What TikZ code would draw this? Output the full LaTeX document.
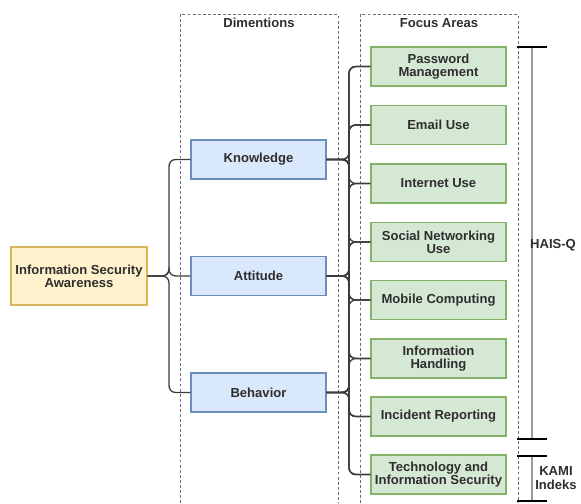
\documentclass[tikz,border=0pt]{standalone}
\usepackage{fontspec}
\setmainfont{Liberation Sans}
\definecolor{txt}{HTML}{2E2E2E}
\definecolor{rootfill}{HTML}{FFF2CC}
\definecolor{rootline}{HTML}{D6B656}
\definecolor{dimfill}{HTML}{DAE8FC}
\definecolor{dimline}{HTML}{6C8EBF}
\definecolor{focfill}{HTML}{D5E8D4}
\definecolor{focline}{HTML}{82B366}
\definecolor{connline}{HTML}{3C3C3C}
\tikzset{
  lbl/.style={font=\fontsize{9.8}{9.9}\selectfont\bfseries, text=txt, align=center},
  box/.style={lbl, draw, line width=1pt, inner sep=0pt, minimum width=101.25pt, minimum height=29.25pt},
  rootbox/.style={box, fill=rootfill, draw=rootline, minimum width=102pt, minimum height=43.5pt},
  dimbox/.style={box, fill=dimfill, draw=dimline},
  focbox/.style={box, fill=focfill, draw=focline},
  container/.style={draw=gray!85!black, dashed, dash pattern=on 2.2pt off 1.6pt, line width=0.45pt},
  conn/.style={draw=connline, line width=1pt, rounded corners=5pt},
  barline/.style={draw=gray!80, line width=1.5pt},
  bartick/.style={draw=black, line width=0.8pt},
}
\begin{document}
\begin{tikzpicture}[x=0.75pt, y=-0.75pt]
\useasboundingbox (0,0) rectangle (581,503);

% dashed column frames
\draw[container] (180,503) -- (180,14) -- (338,14) -- (338,503);
\draw[container] (360,503) -- (360,14) -- (518,14) -- (518,503);
\node[lbl] (dimtitle) at (259,23) {Dimentions};
\node[lbl] (foctitle) at (439,23) {Focus Areas};

% root
\node[rootbox] (isa) at (79,276) {Information Security\\Awareness};

% dimensions
\node[dimbox] (k) at (258.5,159.5) {Knowledge};
\node[dimbox] (a) at (258.5,276) {Attitude};
\node[dimbox] (b) at (258.5,392.5) {Behavior};

% focus areas
\node[focbox] (f1) at (438.5,66.5) {Password\\Management};
\node[focbox] (f2) at (438.5,125) {Email Use};
\node[focbox] (f3) at (438.5,183.5) {Internet Use};
\node[focbox] (f4) at (438.5,242) {Social Networking\\Use};
\node[focbox] (f5) at (438.5,300) {Mobile Computing};
\node[focbox] (f6) at (438.5,358.5) {Information\\Handling};
\node[focbox] (f7) at (438.5,416.5) {Incident Reporting};
\node[focbox] (f8) at (438.5,474.5) {Technology and\\Information Security};

% trunks of the connector trees
\coordinate (trunkL) at (169,0);
\coordinate (trunkR) at (349,0);

% root to dimensions
\foreach \d in {k,a,b}
  \draw[conn] (isa.east) -| (trunkL |- \d.west) -- (\d.west);

% dimensions to focus areas
\foreach \d in {k,a,b}
  \foreach \f in {f1,f2,f3,f4,f5,f6,f7,f8}
    \draw[conn] (\d.east) -| (trunkR |- \f.west) -- (\f.west);

% HAIS-Q crossbar
\coordinate (h1) at (532,47);
\coordinate (h2) at (532,439);
\draw[barline] (h1) -- (h2);
\draw[bartick] ([xshift=-11]h1) -- ([xshift=11]h1);
\draw[bartick] ([xshift=-11]h2) -- ([xshift=11]h2);
\node[lbl] (hais) at (553,245) {HAIS-Q};

% KAMI Indeks crossbar
\coordinate (k1) at (532,456);
\coordinate (k2) at (532,501);
\draw[barline] (k1) -- (k2);
\draw[bartick] ([xshift=-11]k1) -- ([xshift=11]k1);
\draw[bartick] ([xshift=-11]k2) -- ([xshift=11]k2);
\node[lbl] (kami) at (556,478) {KAMI\\Indeks};
\end{tikzpicture}
\end{document}
